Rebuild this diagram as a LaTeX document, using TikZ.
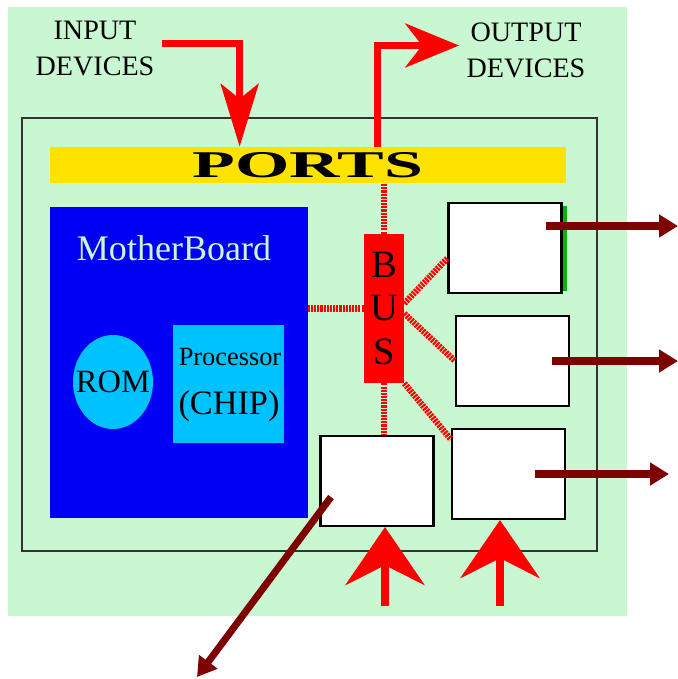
\documentclass[tikz,border=0pt]{standalone}
\usepackage{fontspec}
\setmainfont{Liberation Serif}
\usepackage{graphicx}
\usetikzlibrary{arrows.meta, shapes.geometric}
\definecolor{MintBack}{HTML}{C8F7D2}
\definecolor{PortYellow}{HTML}{FFE200}
\definecolor{BoardBlue}{HTML}{0000F5}
\definecolor{ChipCyan}{HTML}{00C2FF}
\definecolor{SignalRed}{HTML}{FF0000}
\definecolor{DarkMaroon}{HTML}{7F0000}
\definecolor{EdgeGreen}{HTML}{00B400}
\newcommand{\pxu}{0.02cm}
\tikzset{
  devbox/.style={rectangle, draw=black, line width=1.2pt, fill=white,
                minimum width=113*\pxu, minimum height=90*\pxu, inner sep=0pt},
  busline/.style={SignalRed, line width=3.5pt, dash pattern=on 1.2pt off 0.6pt},
  feedarrow/.style={SignalRed, line width=4pt, #1},
  sendarrow/.style={DarkMaroon, line width=4pt, -{Triangle[length=10.8pt, width=12.5pt]}},
  devlabel/.style={align=center, font=\fontsize{16}{20.5}\selectfont},
}

\begin{document}
\begin{tikzpicture}[x=\pxu, y=-\pxu]
    % Coordinate map (pixels, y downwards):
    % (backdrop) 8..627 x 7..616   -- mint panel
    % (frame)    22..597 x 118..551 -- system unit
    % (ports)    50..566 x 147..183 -- "PORTS"
    % (mb)       50..308 x 207..518 -- "MotherBoard"
    % (bus)      364..404 x 234..383 -- "BUS"
    % (box1..4)  cards, 113 x 90
    \useasboundingbox (0,0) rectangle (678,679);

    \node[fill=MintBack, minimum width=619*\pxu, minimum height=609*\pxu] (backdrop) at (317.5,311.5) {};
    \node[draw=black!80, line width=0.8pt, minimum width=575*\pxu, minimum height=433*\pxu] (frame) at (309.5,334.5) {};
    \node[fill=PortYellow, minimum width=516*\pxu, minimum height=36*\pxu, inner sep=0pt,
          font=\fontsize{21.5}{21.5}\selectfont\bfseries] (ports) at (308,165) {\scalebox{1.85}[1]{PORTS}};

    \node[fill=BoardBlue, minimum width=258*\pxu, minimum height=311*\pxu] (mb) at (179,362.5) {};
    \node[text=MintBack, font=\fontsize{20.5}{20.5}\selectfont] (mbtitle) at (174,248.5) {MotherBoard};
    \node[ellipse, fill=ChipCyan, minimum width=80*\pxu, minimum height=94*\pxu, inner sep=0pt] (rom) at (113,382) {};
    \node[font=\fontsize{18.5}{18.5}\selectfont] (romtext) at (rom) {ROM};
    \node[fill=ChipCyan, minimum width=111*\pxu, minimum height=118*\pxu] (chip) at (228.5,384) {};
    \node[font=\fontsize{15}{15}\selectfont] (chipname) at (230,357) {Processor};
    \node[font=\fontsize{19.5}{19.5}\selectfont] (chiptag) at (229,406) {(CHIP)};

    \node[fill=SignalRed, minimum width=40*\pxu, minimum height=149*\pxu, inner sep=0pt,
          align=center, font=\fontsize{22}{25}\selectfont] (bus) at (384,308.5) {B\\U\\S};

    \node[devbox] (box1) at (505,248) {};
    \node[devbox] (box2) at (512.5,361) {};
    \node[devbox] (box3) at (508.5,474) {};
    \node[devbox] (box4) at (377,481) {};
    \draw[EdgeGreen, line width=2.3pt] ([shift={(2,4)}]box1.north east) -- ([shift={(2,-3)}]box1.south east);

    % bus wiring
    \draw[busline] (bus.north) -- (bus.north |- ports.south);
    \draw[busline] (bus.west) -- (bus.west -| mb.east);
    \draw[busline] (bus.14) -- (box1.190);
    \draw[busline] (bus.-14) -- (box2.west);
    \draw[busline] (bus.south) -- (bus.south |- box4.north);
    \draw[busline] (bus.south east) -- (box3.149);

    % input / output through the ports
    \coordinate (insrc) at (162,43.5);
    \coordinate (outtip) at (459,45.5);
    \draw[feedarrow={-{Stealth[length=35.7pt, width=21.5pt, inset=8.5pt]}}] (insrc) -| ([shift={(190,0)}]ports.north west);
    \draw[feedarrow={-{Stealth[length=30.6pt, width=25pt, inset=9.6pt]}}] ([shift={(328,0)}]ports.north west) |- (outtip);

    \coordinate (feed1) at (385,606);
    \coordinate (feed2) at (500,606);
    \draw[feedarrow={line width=4.5pt, -{Stealth[length=33pt, width=45pt, inset=11.3pt]}}] (feed1) -- (feed1 |- box4.south);
    \draw[feedarrow={line width=4.5pt, -{Stealth[length=33pt, width=45pt, inset=11.3pt]}}] (feed2) -- (feed2 |- box3.south);

    % cards sending out
    \coordinate (out1) at (678,226);
    \coordinate (out2) at (678,361);
    \coordinate (out3) at (669,474);
    \coordinate (out4) at (197,677);
    \draw[sendarrow] ([shift={(41,-22)}]box1.center) -- (out1);
    \draw[sendarrow] ([shift={(39.5,0)}]box2.center) -- (out2);
    \draw[sendarrow] ([shift={(26.5,0)}]box3.center) -- (out3);
    \draw[sendarrow] ([shift={(-46,16)}]box4.center) -- (out4);

    \node[devlabel] (indev) at (95,49) {INPUT\\DEVICES};
    \node[devlabel] (outdev) at (526,50) {OUTPUT\\DEVICES};
\end{tikzpicture}
\end{document}
